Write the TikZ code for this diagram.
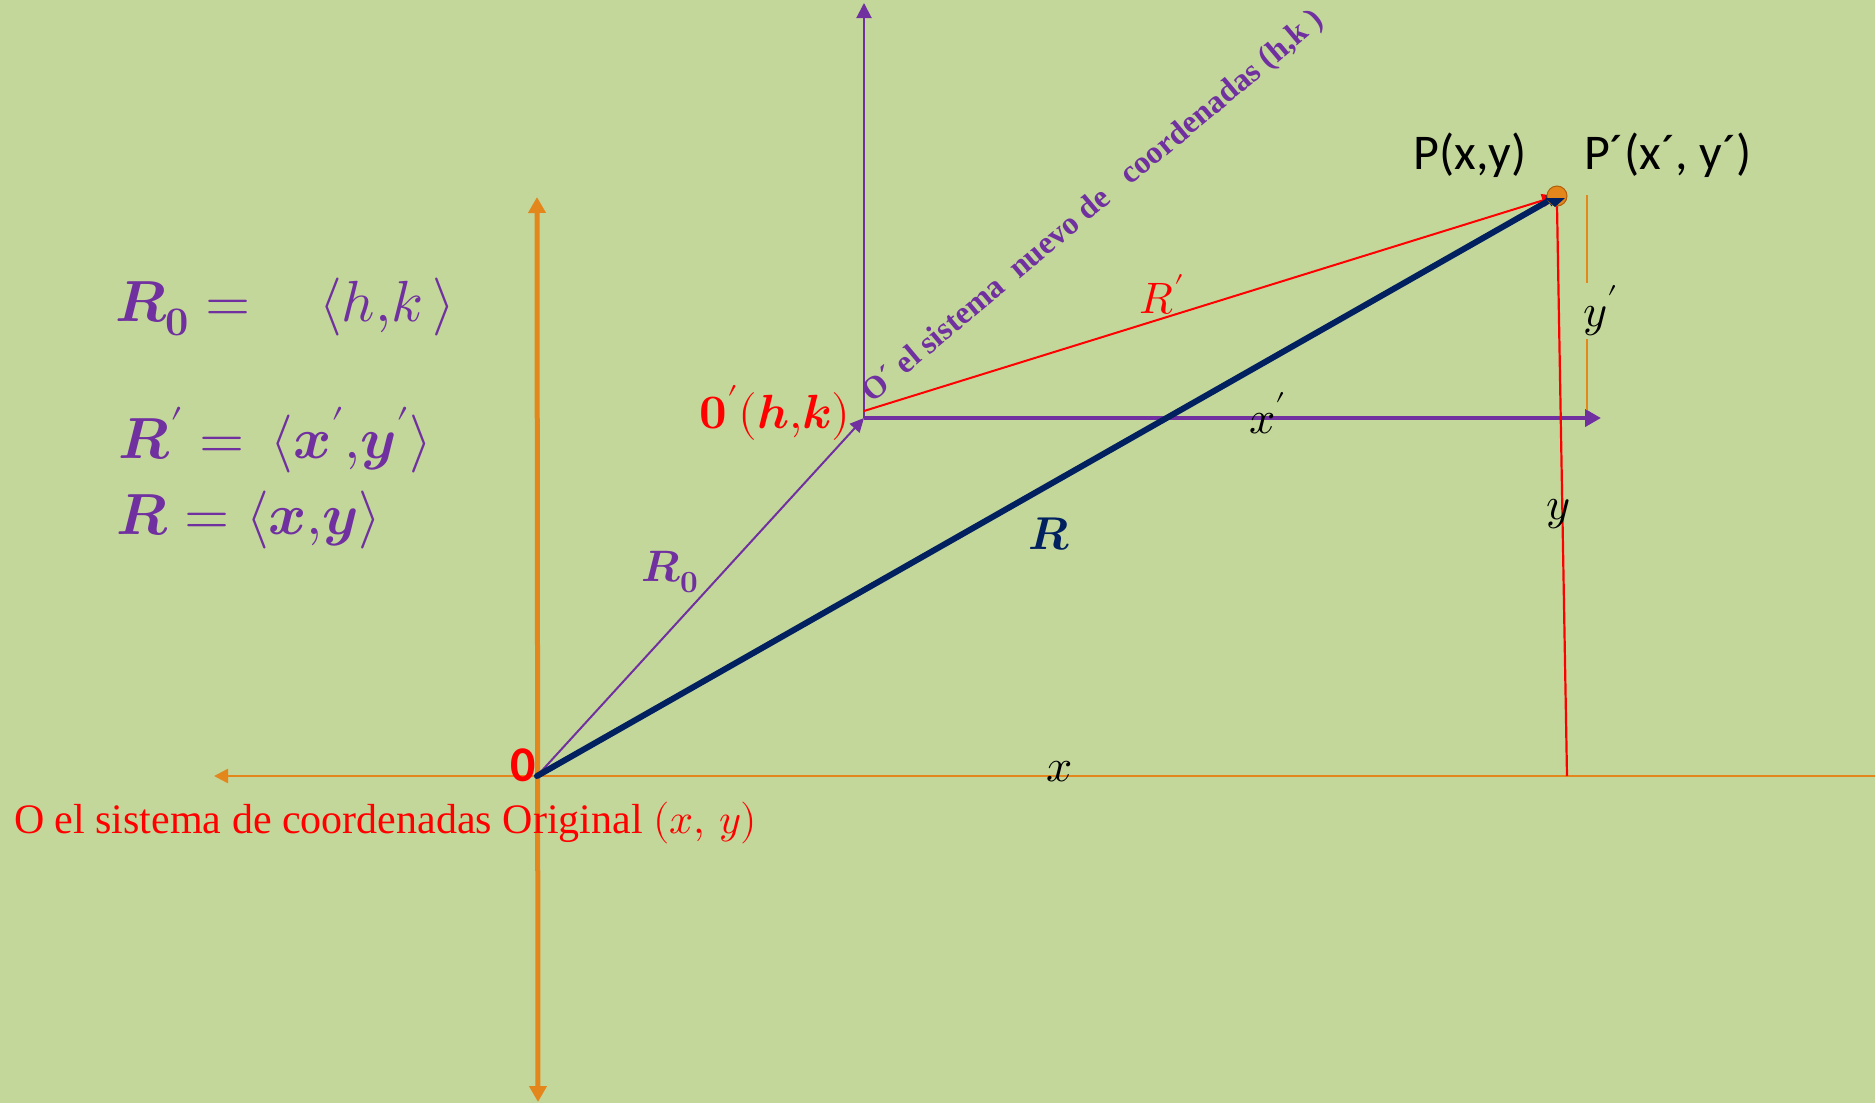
\documentclass[tikz,border=0pt]{standalone}
\usepackage{fontspec}
\usepackage{unicode-math}
\setmathfont{Latin Modern Math}
\newfontfamily\serifL{Liberation Serif}
\newfontfamily\sansC{Carlito}
\usetikzlibrary{arrows.meta}
\definecolor{bg}{HTML}{C4D79B}
\definecolor{orng}{HTML}{E3861B}
\definecolor{orngdark}{HTML}{B0600A}
\definecolor{purp}{HTML}{7030A0}
\definecolor{navy}{HTML}{002060}
\definecolor{redc}{HTML}{FF0000}
\newcommand{\fsz}[1]{\fontsize{#1}{1.2\dimexpr #1pt\relax}\selectfont}
\begin{document}
\begin{tikzpicture}[x=1pt,y=-1pt,
  oaxis/.style={draw=orng, line width=#1},
  lbl/.style={inner sep=0pt, outer sep=0pt},
]
\fill[bg] (0,0) rectangle (1875,1103);
\useasboundingbox (0,0) rectangle (1875,1103);

% coordinates
\coordinate (O) at (537,776);
\coordinate (Op) at (864,418);
\coordinate (P) at (1557,196);
\coordinate (ytop) at (537,197);
\coordinate (ybot) at (538,1102);
\coordinate (xleft) at (214,776);
\coordinate (xright) at (1875,776);
\coordinate (yptop) at (864,3);
\coordinate (xpright) at (1601,418);
\coordinate (yfoot) at (1567,776);
\coordinate (ytopr) at (1557,205);
\coordinate (oyt) at (1587,195);
\coordinate (oyb) at (1587,410);

% original axes
\draw[oaxis=5pt, {Triangle[width=17pt,length=16pt]}-{Triangle[width=17pt,length=16pt]}] (ybot) -- (ytop);
\draw[oaxis=2.5pt, -{Triangle[width=14pt,length=14pt]}] (xright) -- (xleft);

% new axes
\draw[purp, line width=2pt, -{Triangle[width=15pt,length=15pt]}] (Op) -- (yptop);
\draw[purp, line width=4.5pt, -{Triangle[width=17pt,length=16pt]}] (Op) -- (xpright);

% orange short vertical
\draw[orng, line width=2pt] (oyt) -- (oyb);

% red vertical y line
\draw[redc, line width=2.2pt] (yfoot) -- (ytopr);

% vectors
\draw[purp, line width=2pt, -{Triangle[width=13pt,length=14pt]}] (O) -- (Op);
\draw[redc, line width=2pt, -{Triangle[width=13pt,length=15pt]}] (Op) ++(0,-7) coordinate (Ops) -- (P);
\draw[navy, line width=6pt, line cap=round, -{Triangle[width=12pt,length=10pt]}] (O) -- (P);

% point P
\fill[orng, draw=orngdark, line width=1pt] (P) circle (10pt);
\fill[navy] (P) ++(-12,2) -- ++(20,0) -- ++(-10,9) -- cycle;

% labels on drawing
\node[lbl, purp] (lR0) at (670,572) {\fsz{44}$\symbfit{R}_{\symbf{0}}$};
\node[lbl, redc] (lRp) at (1162,294) {\fsz{44}$R^{\prime}$};
\node[lbl, navy] (lR) at (1049,534) {\fsz{46}$\symbfit{R}$};
\node[lbl] (lxp) at (1268,413) {\fsz{46}$x^{\prime}$};
\node[lbl, fill=bg, inner ysep=3pt] (lyp) at (1601,311) {\fsz{46}$y^{\prime}$};
\node[lbl] (ly) at (1558,514) {\fsz{46}$y$};
\node[lbl] (lx) at (1060,772) {\fsz{46}$x$};

% origin labels
\node[lbl, redc, anchor=center] (l0) at (523,765) {\fsz{50}\sansC\bfseries 0};
\node[lbl, redc] (l0p) at (775,413) {\fsz{48}$\symbf{0}^{\prime}\symbf{(}\symbfit{h}{\symbf{,}}\symbfit{k}\symbf{)}$};

% P labels
\node[lbl] (lP) at (1470,155) {\fsz{50}\sansC P(x,y)};
\node[lbl] (lPp) at (1668,155) {\fsz{50}\sansC P´(x´, y´)};

% left formulas
\node[lbl, purp, anchor=west] (f1) at (115,307) {\fsz{58}$\symbfit{R}_{\symbf{0}} =\ \ \ \langle h{,}k\,\rangle$};
\node[lbl, purp, anchor=west] (f2) at (118,440) {\fsz{58}$\symbfit{R}^{\prime}\symbf{=}\,\symbf{\langle} \symbfit{x}^{\prime}{\symbf{,}}\symbfit{y}^{\prime}\symbf{\rangle}$};
\node[lbl, purp, anchor=west] (f3) at (116,520) {\fsz{58}$\symbfit{R}\symbf{=}\symbf{\langle}\symbfit{x}{\symbf{,}}\symbfit{y}\symbf{\rangle}$};

% bottom caption
\node[lbl, redc, anchor=west] (cap) at (14,823) {\fsz{42}\serifL O el sistema de coordenadas Original $(x,\,y)$};

% rotated caption
\node[lbl, purp, anchor=base west, rotate=40] (rot) at (872,403) {\fsz{32}\serifL\bfseries O´ el sistema\ \ nuevo de\ \ \ coordenadas (h,k\ )};
\end{tikzpicture}
\end{document}
